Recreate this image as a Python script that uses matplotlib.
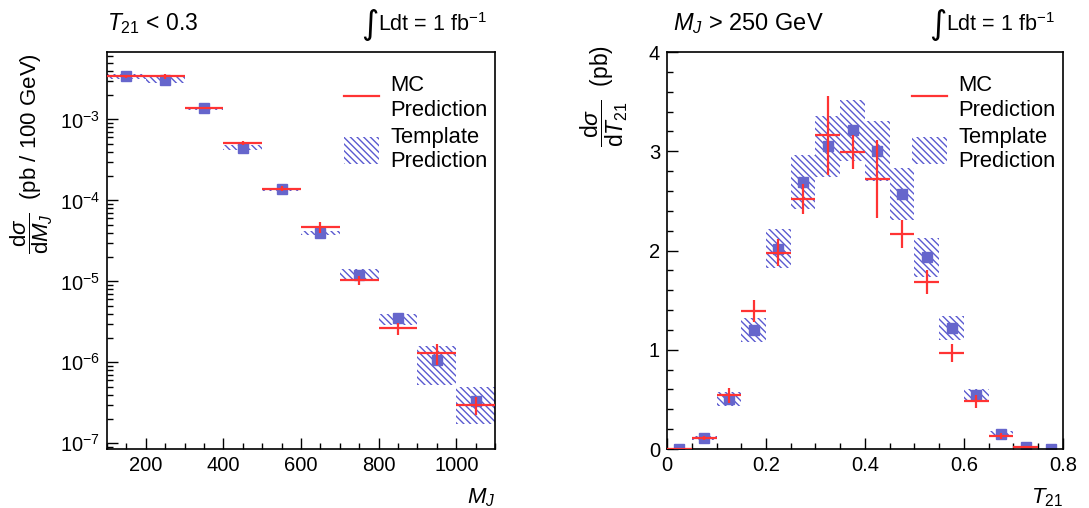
import numpy as np
import matplotlib
matplotlib.use("Agg")
import matplotlib.pyplot as plt
from matplotlib.lines import Line2D
from matplotlib.patches import Patch
from matplotlib.ticker import MultipleLocator, LogLocator, NullFormatter

plt.rcParams["font.family"] = ["Liberation Sans", "DejaVu Sans"]
plt.rcParams["mathtext.fontset"] = "custom"
plt.rcParams["mathtext.rm"] = "Liberation Sans"
plt.rcParams["mathtext.it"] = "Liberation Sans:italic"
plt.rcParams["mathtext.bf"] = "Liberation Sans:bold"
plt.rcParams["hatch.linewidth"] = 1.0

RED = "#ff3333"
BLUE = "#6666cc"
HATCH = "#5a5ad0"
HATCH_PAT = "\\" * 5

# ---- left panel: dsigma/dM_J, T21 < 0.3
mj_centers = [150, 250, 350, 450, 550, 650, 750, 850, 950, 1050]
mj_width = 100
mj_template = [3.43e-3, 3.05e-3, 1.37e-3, 4.5e-4, 1.37e-4, 4.0e-5, 1.19e-5, 3.5e-6, 1.07e-6, 3.36e-7]
mj_tpl_hi = [3.6e-3, 3.3e-3, 1.43e-3, 4.8e-4, 1.44e-4, 4.2e-5, 1.42e-5, 4.0e-6, 1.6e-6, 5.0e-7]
mj_tpl_lo = [3.2e-3, 2.85e-3, 1.31e-3, 4.2e-4, 1.3e-4, 3.75e-5, 1.0e-5, 2.9e-6, 5.3e-7, 1.75e-7]
mj_mc = [3.4e-3, 3.4e-3, 1.39e-3, 5.1e-4, 1.4e-4, 4.7e-5, 1.03e-5, 2.65e-6, 1.31e-6, 3.0e-7]
mj_mc_err = [1.2e-4, 2.0e-4, 5e-5, 3e-5, 1.0e-5, 7e-6, 1.2e-6, 4.5e-7, 3.8e-7, 7.5e-8]

# ---- right panel: dsigma/dT21, M_J > 250 GeV
t21_centers = [0.025, 0.075, 0.125, 0.175, 0.225, 0.275, 0.325, 0.375,
               0.425, 0.475, 0.525, 0.575, 0.625, 0.675, 0.725, 0.775]
t21_width = 0.05
t21_template = [0.0, 0.11, 0.50, 1.20, 2.02, 2.69, 3.05, 3.21,
                3.00, 2.57, 1.93, 1.22, 0.54, 0.15, 0.02, 0.0]
t21_tpl_err = [0.0, 0.02, 0.07, 0.125, 0.2, 0.27, 0.31, 0.31,
               0.30, 0.26, 0.2, 0.125, 0.06, 0.03, 0.01, 0.0]
t21_mc = [0.0, 0.11, 0.54, 1.39, 1.98, 2.52, 3.16, 2.99,
          2.72, 2.17, 1.68, 0.97, 0.48, 0.13, 0.02, np.nan]
t21_mc_err = [0.0, 0.02, 0.075, 0.115, 0.135, 0.15, 0.40, 0.17,
              0.39, 0.14, 0.12, 0.09, 0.065, 0.03, 0.01, np.nan]

fig = plt.figure(figsize=(10.89, 5.08), dpi=100)
ax1 = fig.add_axes([0.0983, 0.1161, 0.3563, 0.7815])
ax2 = fig.add_axes([0.6125, 0.1161, 0.3636, 0.7815])


def draw(ax, x, w, tpl, lo, hi, mc, mcerr):
    ax.bar(x, np.array(hi) - np.array(lo), width=w, bottom=lo, color="none",
           edgecolor=HATCH, hatch=HATCH_PAT, linewidth=0, zorder=1)
    ax.plot(x, tpl, ls="none", marker="s", ms=6.5, color=BLUE, zorder=2)
    ax.errorbar(x, mc, xerr=w / 2, yerr=mcerr, fmt="none", ecolor=RED,
                elinewidth=1.6, capsize=0, zorder=3)


draw(ax1, mj_centers, mj_width, mj_template, mj_tpl_lo, mj_tpl_hi, mj_mc, mj_mc_err)
t_lo = np.array(t21_template) - np.array(t21_tpl_err)
t_hi = np.array(t21_template) + np.array(t21_tpl_err)
draw(ax2, t21_centers, t21_width, t21_template, t_lo, t_hi, t21_mc, t21_mc_err)

ax1.set_yscale("log")
ax1.set_xlim(100, 1100)
ax1.set_ylim(8.5e-8, 6.8e-3)
ax1.xaxis.set_major_locator(MultipleLocator(200))
ax1.xaxis.set_minor_locator(MultipleLocator(50))
ax1.yaxis.set_major_locator(LogLocator(base=10))
ax1.yaxis.set_minor_locator(LogLocator(base=10, subs=np.arange(2, 10)))
ax1.yaxis.set_minor_formatter(NullFormatter())

ax2.set_xlim(0, 0.8)
ax2.set_ylim(0, 4)
ax2.xaxis.set_minor_locator(MultipleLocator(0.05))
ax2.yaxis.set_minor_locator(MultipleLocator(0.2))
ax2.set_xticks([0, 0.2, 0.4, 0.6, 0.8])
ax2.set_xticklabels(["0", "0.2", "0.4", "0.6", "0.8"])
ax2.set_yticks([0, 1, 2, 3, 4])
ax2.set_yticklabels(["0", "1", "2", "3", "4"])

for ax in (ax1, ax2):
    ax.tick_params(which="major", direction="in", length=8, width=1.0,
                   labelsize=14.5, pad=5, top=False, right=False)
    ax.tick_params(which="minor", direction="in", length=4, width=1.0,
                   top=False, right=False)
    for sp in ax.spines.values():
        sp.set_linewidth(1.2)
    handles = [Line2D([], [], color=RED, lw=1.6),
               Patch(facecolor="none", edgecolor=HATCH, hatch=HATCH_PAT, linewidth=0)]
    ax.legend(handles, ["MC\nPrediction", "Template\nPrediction"],
              loc="upper right", bbox_to_anchor=(1.02, 0.98), frameon=False,
              fontsize=15.8, handlelength=1.6, handleheight=1.5,
              labelspacing=0.3, handletextpad=0.5, borderaxespad=0.3)

ax1.set_ylabel(r"$\dfrac{\mathrm{d}\sigma}{\mathrm{d}M_J}$  (pb / 100 GeV)", fontsize=16)
ax2.set_ylabel(r"$\dfrac{\mathrm{d}\sigma}{\mathrm{d}T_{21}}$  (pb)", fontsize=16.5)
ax1.yaxis.set_label_coords(-0.134, 0.744)
ax2.yaxis.set_label_coords(-0.093, 0.888)

ax1.set_xlabel(r"$M_J$", fontsize=16, loc="right", labelpad=8)
ax2.set_xlabel(r"$T_{21}$", fontsize=16, loc="right", labelpad=8)

ax1.text(0.0, 1.04, r"$T_{21}$ < 0.3", transform=ax1.transAxes, fontsize=16.5,
         ha="left", va="bottom")
ax2.text(0.015, 1.04, r"$M_J$ > 250 GeV", transform=ax2.transAxes, fontsize=17,
         ha="left", va="bottom")
for ax in (ax1, ax2):
    ldt = ax.text(0.98, 1.04, r"Ldt = 1 fb$^{\mathrm{-1}}$", transform=ax.transAxes,
                  fontsize=15.5, ha="right", va="bottom")
    ax.annotate("\u222b", xy=(0, -0.22), xycoords=ldt, fontsize=24,
                ha="right", va="bottom", family="DejaVu Sans")

fig.savefig("out.png", dpi=100)
